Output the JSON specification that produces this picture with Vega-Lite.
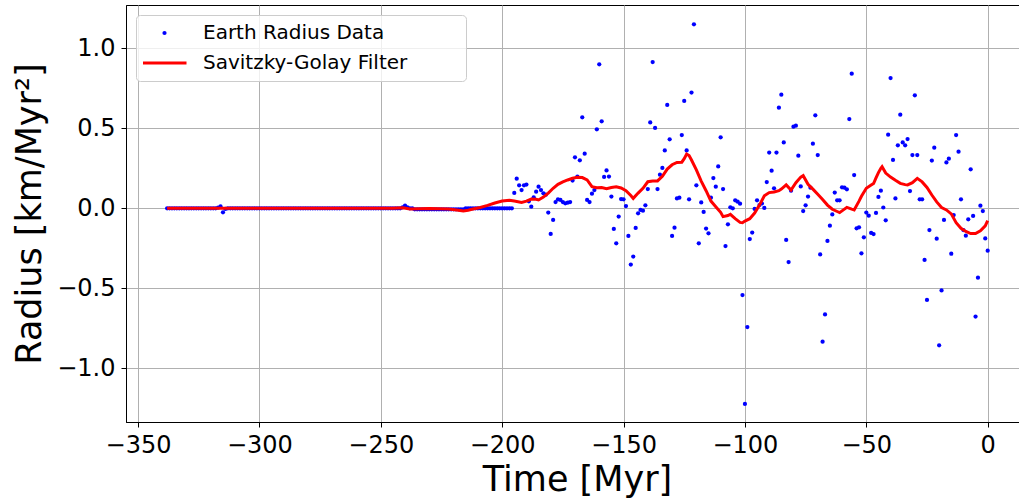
{
"$schema":"https://vega.github.io/schema/vega-lite/v6.json",
"autosize":"none",
"width":893,"height":417,
"padding":{"left":126,"top":5,"right":0,"bottom":78},
"background":"white",
"config":{
 "font":"DejaVu Sans",
 "view":{"stroke":"#000","strokeWidth":1},
 "axis":{"grid":true,"gridColor":"#b0b0b0","gridWidth":1,"domainColor":"#000","domainWidth":1,"tickColor":"#000","tickWidth":1,"tickSize":5,"labelFont":"DejaVu Sans","labelFontSize":24,"labelColor":"#000","titleFont":"DejaVu Sans","titleFontSize":35,"titleFontWeight":"normal","titleColor":"#000","labelFlush":false,"labelOverlap":false},
 "legend":{"title":null,"orient":"top-left","offset":10,"padding":7,"rowPadding":8,"clipHeight":22,
       "labelFontSize":20,"labelFont":"DejaVu Sans","labelColor":"#000","labelLimit":0,
       "fillColor":"rgba(255,255,255,0.8)","strokeColor":"#cccccc","cornerRadius":4,
       "symbolOpacity":1,"labelOffset":15,"symbolOffset":-2}
},
"datasets":{
"pts":[
{"t":-338,"r":0},{"t":-337,"r":0},{"t":-336,"r":0},{"t":-335,"r":0},{"t":-334,"r":0},{"t":-333,"r":0},{"t":-332,"r":0},{"t":-331,"r":0},{"t":-330,"r":0},{"t":-329,"r":0},{"t":-328,"r":0},{"t":-327,"r":0},{"t":-326,"r":0},{"t":-325,"r":0},{"t":-324,"r":0},{"t":-323,"r":0},{"t":-322,"r":0},{"t":-321,"r":0},{"t":-320,"r":0},{"t":-319,"r":0},{"t":-318,"r":0},{"t":-317,"r":0.004},{"t":-316,"r":0.012},{"t":-315,"r":-0.025},{"t":-314,"r":-0.004},{"t":-313,"r":0},{"t":-312,"r":0},{"t":-311,"r":0},{"t":-310,"r":0},{"t":-309,"r":0},{"t":-308,"r":0},{"t":-307,"r":0},{"t":-306,"r":0},{"t":-305,"r":0},{"t":-304,"r":0},{"t":-303,"r":0},{"t":-302,"r":0},{"t":-301,"r":0},{"t":-300,"r":0},{"t":-299,"r":0},{"t":-298,"r":0},{"t":-297,"r":0},{"t":-296,"r":0},{"t":-295,"r":0},{"t":-294,"r":0},{"t":-293,"r":0},{"t":-292,"r":0},{"t":-291,"r":0},{"t":-290,"r":0},{"t":-289,"r":0},{"t":-288,"r":0},{"t":-287,"r":0},{"t":-286,"r":0},{"t":-285,"r":0},{"t":-284,"r":0},{"t":-283,"r":0},{"t":-282,"r":0},{"t":-281,"r":0},{"t":-280,"r":0},{"t":-279,"r":0},{"t":-278,"r":0},{"t":-277,"r":0},{"t":-276,"r":0},{"t":-275,"r":0},{"t":-274,"r":0},{"t":-273,"r":0},{"t":-272,"r":0},{"t":-271,"r":0},{"t":-270,"r":0},{"t":-269,"r":0},{"t":-268,"r":0},{"t":-267,"r":0},{"t":-266,"r":0},{"t":-265,"r":0},{"t":-264,"r":0},{"t":-263,"r":0},{"t":-262,"r":0},{"t":-261,"r":0},{"t":-260,"r":0},{"t":-259,"r":0},{"t":-258,"r":0},{"t":-257,"r":0},{"t":-256,"r":0},{"t":-255,"r":0},{"t":-254,"r":0},{"t":-253,"r":0},{"t":-252,"r":0},{"t":-251,"r":0},{"t":-250,"r":0},{"t":-249,"r":0},{"t":-248,"r":0},{"t":-247,"r":0},{"t":-246,"r":0},{"t":-245,"r":0},{"t":-244,"r":0},{"t":-243,"r":0},{"t":-242,"r":0},{"t":-241,"r":0.006},{"t":-240,"r":0.016},{"t":-239,"r":0.006},{"t":-238,"r":0},{"t":-237,"r":0},{"t":-236,"r":-0.006},{"t":-235,"r":-0.006},{"t":-234,"r":-0.006},{"t":-233,"r":-0.006},{"t":-232,"r":-0.006},{"t":-231,"r":-0.006},{"t":-230,"r":-0.006},{"t":-229,"r":-0.006},{"t":-228,"r":-0.006},{"t":-227,"r":-0.006},{"t":-226,"r":-0.006},{"t":-225,"r":-0.006},{"t":-224,"r":-0.006},{"t":-223,"r":-0.006},{"t":-222,"r":-0.006},{"t":-221,"r":-0.006},{"t":-220,"r":-0.006},{"t":-219,"r":-0.006},{"t":-218,"r":-0.006},{"t":-217,"r":-0.006},{"t":-216,"r":-0.006},{"t":-215,"r":0},{"t":-214,"r":0},{"t":-213,"r":0},{"t":-212,"r":0},{"t":-211,"r":0},{"t":-210,"r":0},{"t":-209,"r":0},{"t":-208,"r":0},{"t":-207,"r":0},{"t":-206,"r":0},{"t":-205,"r":0},{"t":-204,"r":0},{"t":-203,"r":0},{"t":-202,"r":0},{"t":-201,"r":0},{"t":-200,"r":0},{"t":-199,"r":0},{"t":-198,"r":0},{"t":-197,"r":0},{"t":-196,"r":0},
{"t":-195,"r":0.096},{"t":-194,"r":0.185},{"t":-193,"r":0.144},{"t":-192,"r":0.114},{"t":-191,"r":0.144},{"t":-190,"r":0.148},{"t":-189,"r":0.044},{"t":-188,"r":0.01},{"t":-187,"r":0.069},{"t":-186,"r":0.104},{"t":-185,"r":0.135},{"t":-184,"r":0.114},{"t":-183,"r":0.094},{"t":-182,"r":0.085},{"t":-181,"r":-0.027},{"t":-180,"r":-0.16},{"t":-179,"r":-0.073},{"t":-178,"r":0.039},{"t":-177,"r":0.056},{"t":-176,"r":0.052},{"t":-175,"r":0.039},{"t":-174,"r":0.031},{"t":-173,"r":0.035},{"t":-172,"r":0.039},{"t":-171,"r":0.173},{"t":-170,"r":0.319},{"t":-169,"r":0.198},{"t":-168,"r":0.3},{"t":-167,"r":0.569},{"t":-166,"r":0.341},{"t":-165,"r":0.052},{"t":-164,"r":0.039},{"t":-163,"r":0.091},{"t":-162,"r":0.114},{"t":-161,"r":0.494},{"t":-160,"r":0.9},{"t":-159,"r":0.544},{"t":-158,"r":0.196},{"t":-157,"r":0.237},{"t":-156,"r":0.198},{"t":-155,"r":0.073},{"t":-154,"r":-0.129},{"t":-153,"r":-0.219},{"t":-152,"r":-0.052},{"t":-151,"r":0.058},{"t":-150,"r":0.056},{"t":-149,"r":0.014},{"t":-148,"r":-0.173},{"t":-147,"r":-0.352},{"t":-146,"r":-0.302},{"t":-145,"r":-0.123},{"t":-144,"r":-0.031},{"t":-143,"r":-0.01},{"t":-142,"r":-0.015},{"t":-141,"r":0.019},{"t":-140,"r":0.12},{"t":-139,"r":0.537},{"t":-138,"r":0.914},{"t":-137,"r":0.502},{"t":-136,"r":0.12},{"t":-135,"r":0.21},{"t":-134,"r":0.252},{"t":-133,"r":0.362},{"t":-132,"r":0.646},{"t":-131,"r":0.431},{"t":-130,"r":-0.173},{"t":-129,"r":-0.121},{"t":-128,"r":0.062},{"t":-127,"r":0.066},{"t":-126,"r":0.458},{"t":-125,"r":0.671},{"t":-124,"r":0.362},{"t":-123,"r":0.056},{"t":-122,"r":0.723},{"t":-121,"r":1.15},{"t":-120,"r":0.144},{"t":-119,"r":-0.219},{"t":-118,"r":0.037},{"t":-117,"r":-0.023},{"t":-116,"r":-0.127},{"t":-115,"r":-0.156},{"t":-114,"r":0.066},{"t":-113,"r":0.189},{"t":-112,"r":0.135},{"t":-111,"r":0.262},{"t":-110,"r":0.444},{"t":-109,"r":0.12},{"t":-108,"r":-0.236},{"t":-107,"r":-0.1},{"t":-106,"r":0.006},{"t":-105,"r":0.0},{"t":-104,"r":0.05},{"t":-103,"r":0.041},{"t":-102,"r":0.029},{"t":-101,"r":-0.542},{"t":-100,"r":-1.223},{"t":-99,"r":-0.742},{"t":-98,"r":-0.192},{"t":-97,"r":-0.152},{"t":-96,"r":-0.004},{"t":-95,"r":0.05},{"t":-94,"r":0.02},{"t":-93,"r":0.03},{"t":-92,"r":0.002},{"t":-91,"r":0.164},{"t":-90,"r":0.348},{"t":-89,"r":0.235},{"t":-88,"r":0.125},{"t":-87,"r":0.348},{"t":-86,"r":0.629},{"t":-85,"r":0.71},{"t":-84,"r":0.412},{"t":-83,"r":-0.198},{"t":-82,"r":-0.336},{"t":-81,"r":0.11},{"t":-80,"r":0.51},{"t":-79,"r":0.516},{"t":-78,"r":0.329},{"t":-77,"r":0.137},{"t":-76,"r":-0.017},{"t":-75,"r":0.019},{"t":-74,"r":0.073},{"t":-73,"r":0.129},{"t":-72,"r":0.404},{"t":-71,"r":0.581},{"t":-70,"r":0.333},{"t":-69,"r":-0.288},{"t":-68,"r":-0.834},{"t":-67,"r":-0.663},{"t":-66,"r":-0.204},{"t":-65,"r":-0.109},{"t":-64,"r":-0.038},{"t":-63,"r":0.098},{"t":-62,"r":0.05},{"t":-61,"r":0.05},{"t":-60,"r":0.131},{"t":-59,"r":0.129},{"t":-58,"r":0.119},{"t":-57,"r":0.558},{"t":-56,"r":0.841},{"t":-55,"r":0.208},{"t":-54,"r":-0.125},{"t":-53,"r":-0.119},{"t":-52,"r":-0.281},{"t":-51,"r":-0.181},{"t":-50,"r":-0.027},{"t":-49,"r":-0.046},{"t":-48,"r":-0.154},{"t":-47,"r":-0.161},{"t":-46,"r":-0.029},{"t":-45,"r":0.071},{"t":-44,"r":0.11},{"t":-43,"r":0.005},{"t":-42,"r":-0.075},{"t":-41,"r":0.46},{"t":-40,"r":0.814},{"t":-39,"r":0.302},{"t":-38,"r":0.062},{"t":-37,"r":0.394},{"t":-36,"r":0.585},{"t":-35,"r":0.412},{"t":-34,"r":0.394},{"t":-33,"r":0.433},{"t":-32,"r":0.108},{"t":-31,"r":0.333},{"t":-30,"r":0.706},{"t":-29,"r":0.333},{"t":-28,"r":0.056},{"t":-27,"r":0.056},{"t":-26,"r":-0.323},{"t":-25,"r":-0.573},{"t":-24,"r":-0.136},{"t":-23,"r":0.298},{"t":-22,"r":0.379},{"t":-21,"r":-0.19},{"t":-20,"r":-0.856},{"t":-19,"r":-0.513},{"t":-18,"r":-0.073},{"t":-17,"r":0.287},{"t":-16,"r":0.31},{"t":-15,"r":-0.284},{"t":-14,"r":-0.042},{"t":-13,"r":0.458},{"t":-12,"r":0.354},{"t":-11,"r":0.056},{"t":-10,"r":-0.136},{"t":-9,"r":-0.171},{"t":-8,"r":-0.069},{"t":-7,"r":0.244},{"t":-6,"r":-0.048},{"t":-5,"r":-0.677},{"t":-4,"r":-0.434},{"t":-3,"r":0.016},{"t":-2,"r":-0.017},{"t":-1,"r":-0.188},{"t":0,"r":-0.265}
],
"sg":[
{"t":-338,"r":0},{"t":-320,"r":0},{"t":-300,"r":0},{"t":-280,"r":0},{"t":-260,"r":0},{"t":-245,"r":0},{"t":-241,"r":0.004},{"t":-238,"r":-0.004},{"t":-230,"r":-0.002},{"t":-222,"r":-0.004},{"t":-218,"r":-0.012},{"t":-216,"r":-0.017},{"t":-214,"r":-0.012},{"t":-212,"r":-0.004},{"t":-209,"r":0.005},{"t":-206,"r":0.018},{"t":-203,"r":0.033},{"t":-200,"r":0.045},{"t":-197,"r":0.05},{"t":-195,"r":0.045},{"t":-192,"r":0.037},{"t":-190,"r":0.045},{"t":-188,"r":0.058},{"t":-186,"r":0.056},{"t":-185,"r":0.052},{"t":-183,"r":0.07},{"t":-181,"r":0.095},{"t":-179,"r":0.125},{"t":-177,"r":0.15},{"t":-175,"r":0.165},{"t":-173,"r":0.177},{"t":-171,"r":0.188},{"t":-169,"r":0.194},{"t":-167,"r":0.192},{"t":-165,"r":0.177},{"t":-163,"r":0.135},{"t":-161,"r":0.128},{"t":-159,"r":0.13},{"t":-157,"r":0.122},{"t":-155,"r":0.13},{"t":-153,"r":0.135},{"t":-151,"r":0.127},{"t":-149,"r":0.11},{"t":-147,"r":0.08},{"t":-146,"r":0.062},{"t":-144,"r":0.095},{"t":-142,"r":0.125},{"t":-140,"r":0.166},{"t":-138,"r":0.171},{"t":-136,"r":0.171},{"t":-134,"r":0.2},{"t":-132,"r":0.245},{"t":-130,"r":0.272},{"t":-128,"r":0.287},{"t":-126,"r":0.288},{"t":-125,"r":0.31},{"t":-124,"r":0.339},{"t":-123,"r":0.33},{"t":-122,"r":0.302},{"t":-120,"r":0.24},{"t":-118,"r":0.17},{"t":-116,"r":0.11},{"t":-114,"r":0.045},{"t":-112,"r":0.01},{"t":-110,"r":-0.025},{"t":-109,"r":-0.052},{"t":-107,"r":-0.045},{"t":-106,"r":-0.038},{"t":-104,"r":-0.065},{"t":-102,"r":-0.088},{"t":-101,"r":-0.09},{"t":-100,"r":-0.08},{"t":-98,"r":-0.065},{"t":-96,"r":-0.03},{"t":-94,"r":0.02},{"t":-92,"r":0.078},{"t":-90,"r":0.098},{"t":-88,"r":0.102},{"t":-86,"r":0.11},{"t":-85,"r":0.12},{"t":-83,"r":0.146},{"t":-81,"r":0.114},{"t":-79,"r":0.16},{"t":-77,"r":0.195},{"t":-76,"r":0.204},{"t":-74,"r":0.15},{"t":-72,"r":0.12},{"t":-70,"r":0.088},{"t":-68,"r":0.055},{"t":-66,"r":0.02},{"t":-64,"r":-0.006},{"t":-62,"r":-0.02},{"t":-61,"r":-0.027},{"t":-59,"r":-0.005},{"t":-58,"r":0.006},{"t":-56,"r":-0.005},{"t":-55,"r":-0.01},{"t":-53,"r":0.045},{"t":-52,"r":0.075},{"t":-50,"r":0.125},{"t":-48,"r":0.145},{"t":-47,"r":0.155},{"t":-46,"r":0.19},{"t":-45,"r":0.223},{"t":-44,"r":0.25},{"t":-43.5,"r":0.26},{"t":-42,"r":0.22},{"t":-40,"r":0.195},{"t":-38,"r":0.175},{"t":-36,"r":0.156},{"t":-34,"r":0.148},{"t":-33,"r":0.146},{"t":-31,"r":0.16},{"t":-29,"r":0.187},{"t":-27,"r":0.165},{"t":-25,"r":0.13},{"t":-23,"r":0.083},{"t":-21,"r":0.04},{"t":-19,"r":0.005},{"t":-17,"r":-0.01},{"t":-15,"r":-0.035},{"t":-13,"r":-0.09},{"t":-11,"r":-0.125},{"t":-9,"r":-0.145},{"t":-7,"r":-0.158},{"t":-5,"r":-0.158},{"t":-3,"r":-0.14},{"t":-1,"r":-0.11},{"t":0,"r":-0.077}
]
},
"layer":[
 {"data":{"name":"pts"},
  "mark":{"type":"point","filled":true,"opacity":1},
  "encoding":{
   "x":{"field":"t","type":"quantitative","scale":{"domain":[-354.94,12.9],"nice":false,"zero":false},
        "axis":{"values":[-350,-300,-250,-200,-150,-100,-50,0],"format":"d","title":"Time [Myr]","labelPadding":6,"titleX":451,"titleY":68,"titleBaseline":"alphabetic","titleAlign":"center"}},
   "y":{"field":"r","type":"quantitative","scale":{"domain":[-1.3356,1.2706],"nice":false,"zero":false},
        "axis":{"values":[-1,-0.5,0,0.5,1],"format":".1f","title":"Radius [km/Myr²]","labelPadding":6,"titleX":-86,"titleBaseline":"alphabetic"}},
   "color":{"datum":"Earth Radius Data","type":"nominal",
     "scale":{"domain":["Earth Radius Data","Savitzky-Golay Filter"],"range":["#0000ff","#ff0000"]},
     "legend":{"labelExpr":"datum.label + '\u00a0\u00a0\u00a0\u00a0\u00a0\u00a0\u00a0\u00a0\u200b'"}},
   "shape":{"datum":"Earth Radius Data","type":"nominal",
     "scale":{"domain":["Earth Radius Data","Savitzky-Golay Filter"],"range":["circle","stroke"]},
     "legend":{"labelExpr":"datum.label + '\u00a0\u00a0\u00a0\u00a0\u00a0\u00a0\u00a0\u00a0\u200b'"}},
   "size":{"datum":"Earth Radius Data","type":"nominal",
     "scale":{"type":"point","padding":0,"domain":["Earth Radius Data","Savitzky-Golay Filter"],"range":[18,1936]},
     "legend":{"labelExpr":"datum.label + '\u00a0\u00a0\u00a0\u00a0\u00a0\u00a0\u00a0\u00a0\u200b'"}},
   "strokeWidth":{"datum":"Earth Radius Data","type":"nominal",
     "scale":{"type":"point","padding":0,"domain":["Earth Radius Data","Savitzky-Golay Filter"],"range":[0,3]},
     "legend":{"labelExpr":"datum.label + '\u00a0\u00a0\u00a0\u00a0\u00a0\u00a0\u00a0\u00a0\u200b'"}}
  }},
 {"data":{"name":"sg"},
  "mark":{"type":"line"},
  "encoding":{
   "x":{"field":"t","type":"quantitative"},
   "y":{"field":"r","type":"quantitative"},
   "color":{"datum":"Savitzky-Golay Filter","type":"nominal",
     "legend":{"labelExpr":"datum.label + '\u00a0\u00a0\u00a0\u00a0\u00a0\u00a0\u00a0\u00a0\u200b'"}},
   "strokeWidth":{"datum":"Savitzky-Golay Filter","type":"nominal",
     "legend":{"labelExpr":"datum.label + '\u00a0\u00a0\u00a0\u00a0\u00a0\u00a0\u00a0\u00a0\u200b'"}}
  }}
]
}
